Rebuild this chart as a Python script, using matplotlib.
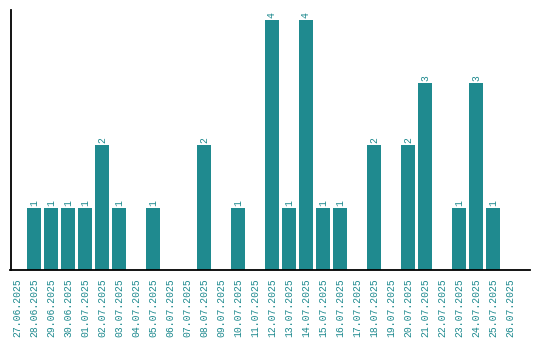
import numpy as np
import matplotlib.pyplot as plt

# daily counts, 27.06.2025 - 26.07.2025
dates = ["27.06.2025", "28.06.2025", "29.06.2025", "30.06.2025", "01.07.2025",
         "02.07.2025", "03.07.2025", "04.07.2025", "05.07.2025", "06.07.2025",
         "07.07.2025", "08.07.2025", "09.07.2025", "10.07.2025", "11.07.2025",
         "12.07.2025", "13.07.2025", "14.07.2025", "15.07.2025", "16.07.2025",
         "17.07.2025", "18.07.2025", "19.07.2025", "20.07.2025", "21.07.2025",
         "22.07.2025", "23.07.2025", "24.07.2025", "25.07.2025", "26.07.2025"]
counts = [0, 1, 1, 1, 1, 2, 1, 0, 1, 0,
          0, 2, 0, 1, 0, 4, 1, 4, 1, 1,
          0, 2, 0, 2, 3, 0, 1, 3, 1, 0]

teal = "#1f8a8f"
plt.rcParams['font.family'] = ['Liberation Mono', 'DejaVu Sans Mono']

fig = plt.figure(figsize=(5.4, 3.4), dpi=100)
ax = fig.add_axes([10.5/540, 70/340, 519.5/540, 260/340])

x = np.arange(len(dates))
bars = ax.bar(x, counts, width=0.82, color=teal)
for xi, c in zip(x, counts):
    if c > 0:
        ax.text(xi, c + 0.03, str(c), rotation=90, ha='center', va='bottom',
                color=teal, fontsize=7)

ax.set_xticks(x)
ax.set_xticklabels(dates, rotation=90, color=teal, fontsize=7)
ax.tick_params(axis='x', length=0, pad=6)
ax.set_yticks([])
ax.set_xlim(-0.38, 30.18)
ax.set_ylim(0, 4.16)
for s in ['top', 'right']:
    ax.spines[s].set_visible(False)
for s in ['left', 'bottom']:
    ax.spines[s].set_linewidth(1.3)

fig.savefig("out.png", dpi=100)
